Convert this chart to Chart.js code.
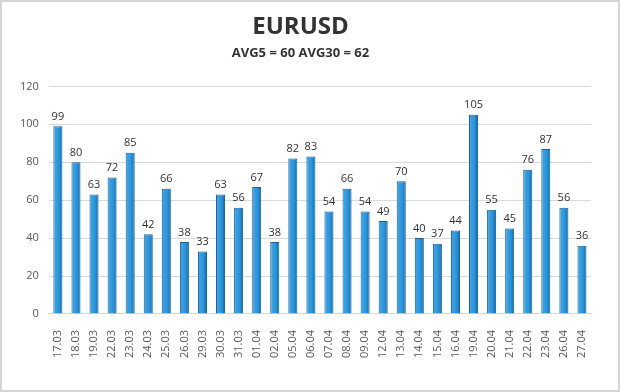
<!DOCTYPE html>
<html>
<head>
<meta charset="utf-8">
<script src="https://cdn.jsdelivr.net/npm/chart.js@4/dist/chart.umd.min.js"></script>
<style>
  html, body { margin: 0; padding: 0; background: #fff; }
  #wrap { width: 620px; height: 392px; }
</style>
</head>
<body>
<div id="wrap"><canvas id="bar" width="620" height="392"></canvas></div>
<script>
var days = ["17.03", "18.03", "19.03", "22.03", "23.03", "24.03", "25.03", "26.03", "29.03", "30.03",
    "31.03", "01.04", "02.04", "05.04", "06.04", "07.04", "08.04", "09.04", "12.04", "13.04",
    "14.04", "15.04", "16.04", "19.04", "20.04", "21.04", "22.04", "23.04", "26.04", "27.04"];
var volatility = [99, 80, 63, 72, 85, 42, 66, 38, 33, 63,
    56, 67, 38, 82, 83, 54, 66, 54, 49, 70,
    40, 37, 44, 105, 55, 45, 76, 87, 56, 36];
var yTicks = [0, 20, 40, 60, 80, 100, 120];
var titleText = "EURUSD";
var subtitleText = "AVG5 = 60 AVG30 = 62";

// white background + thin frame like the picture
var frame = {
    id: 'frame',
    beforeDraw: function (chart) {
        var c = chart.ctx;
        c.save();
        c.fillStyle = '#fff';
        c.fillRect(0, 0, chart.width, chart.height);
        c.strokeStyle = '#d6d6d6';
        c.lineWidth = 2;
        c.strokeRect(1, 1, chart.width - 2, chart.height - 2);
        c.restore();
    }
};

// horizontal shading on every bar, the reference has a round-ish look
var shade = {
    id: 'shade',
    beforeDatasetsDraw: function (chart) {
        var c = chart.ctx;
        chart.getDatasetMeta(0).data.forEach(function (bar) {
            var half = bar.width / 2;
            var g = c.createLinearGradient(bar.x - half, 0, bar.x + half, 0);
            g.addColorStop(0, '#45a8e8');
            g.addColorStop(0.65, '#2393dc');
            g.addColorStop(1, '#14609e');
            bar.options.backgroundColor = g;
        });
    }
};

// value on top of each bar
var values = {
    id: 'values',
    afterDatasetsDraw: function (chart) {
        var c = chart.ctx;
        c.save();
        c.font = '11px "Open Sans", sans-serif';
        c.fillStyle = '#333';
        c.textAlign = 'center';
        c.textBaseline = 'bottom';
        chart.getDatasetMeta(0).data.forEach(function (bar, i) {
            c.fillText(volatility[i], bar.x, bar.y - 4);
        });
        c.restore();
    }
};

var ctx = document.getElementById('bar').getContext('2d');
var chart = new Chart(ctx, {
    type: 'bar',
    data: {
        labels: days,
        datasets: [{
            data: volatility,
            // function so every bar gets its own options object
            backgroundColor: function () { return '#2393dc'; },
            borderColor: '#1a5f95',
            borderWidth: 1,
            barPercentage: 0.5,
            categoryPercentage: 1
        }]
    },
    options: {
        responsive: false,
        animation: false,
        layout: { padding: { left: 10, right: 29, top: 0, bottom: 26 } },
        plugins: {
            legend: { display: false },
            tooltip: { enabled: false },
            title: {
                display: true,
                text: titleText,
                color: '#333',
                font: { family: '"Open Sans", sans-serif', size: 24, weight: 'bold' },
                padding: { top: 13, bottom: 4 }
            },
            subtitle: {
                display: true,
                text: subtitleText,
                color: '#333',
                font: { family: '"Open Sans", sans-serif', size: 13, weight: 'bold' },
                padding: { top: 0, bottom: 25 }
            }
        },
        scales: {
            x: {
                grid: { display: false },
                border: { display: true, color: '#d9d9d9' },
                ticks: {
                    color: '#595959',
                    font: { family: '"Open Sans", sans-serif', size: 11 },
                    minRotation: 90,
                    maxRotation: 90,
                    autoSkip: false,
                    padding: 8
                }
            },
            y: {
                min: 0,
                max: 120,
                afterBuildTicks: function (axis) {
                    axis.ticks = yTicks.map(function (v) { return { value: v }; });
                },
                grid: { color: '#d9d9d9', drawTicks: false },
                border: { display: false },
                ticks: {
                    color: '#595959',
                    font: { family: '"Open Sans", sans-serif', size: 11 },
                    padding: 10
                }
            }
        }
    },
    plugins: [frame, shade, values]
});
</script>
</body>
</html>
